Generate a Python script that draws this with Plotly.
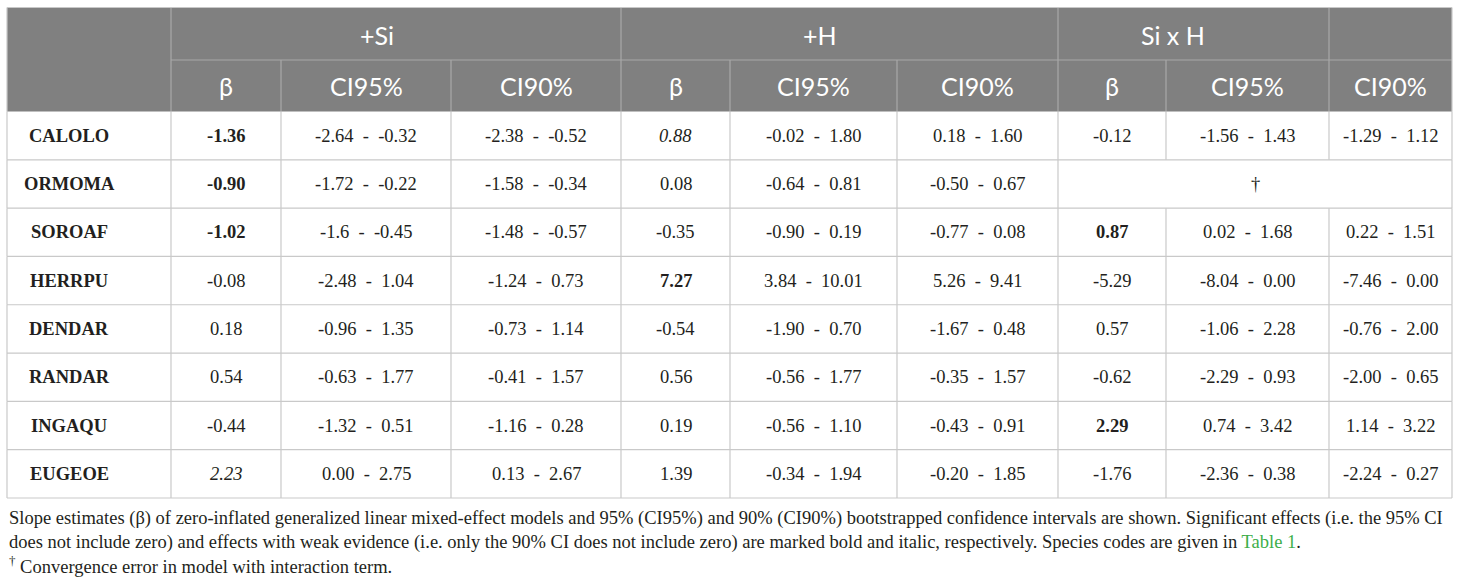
import plotly.graph_objects as go

# ---------------- data ----------------
species = ["CALOLO", "ORMOMA", "SOROAF", "HERRPU", "DENDAR", "RANDAR", "INGAQU", "EUGEOE"]

groups = ["+Si", "+H", "Si x H"]
sub_labels = ["β", "CI95%", "CI90%"]

si_beta = ["-1.36", "-0.90", "-1.02", "-0.08", "0.18", "0.54", "-0.44", "2.23"]
si_ci95_lo = ["-2.64", "-1.72", "-1.6", "-2.48", "-0.96", "-0.63", "-1.32", "0.00"]
si_ci95_hi = ["-0.32", "-0.22", "-0.45", "1.04", "1.35", "1.77", "0.51", "2.75"]
si_ci90_lo = ["-2.38", "-1.58", "-1.48", "-1.24", "-0.73", "-0.41", "-1.16", "0.13"]
si_ci90_hi = ["-0.52", "-0.34", "-0.57", "0.73", "1.14", "1.57", "0.28", "2.67"]
si_style = ["b", "b", "b", "", "", "", "", "i"]

h_beta = ["0.88", "0.08", "-0.35", "7.27", "-0.54", "0.56", "0.19", "1.39"]
h_ci95_lo = ["-0.02", "-0.64", "-0.90", "3.84", "-1.90", "-0.56", "-0.56", "-0.34"]
h_ci95_hi = ["1.80", "0.81", "0.19", "10.01", "0.70", "1.77", "1.10", "1.94"]
h_ci90_lo = ["0.18", "-0.50", "-0.77", "5.26", "-1.67", "-0.35", "-0.43", "-0.20"]
h_ci90_hi = ["1.60", "0.67", "0.08", "9.41", "0.48", "1.57", "0.91", "1.85"]
h_style = ["i", "", "", "b", "", "", "", ""]

sxh_beta = ["-0.12", None, "0.87", "-5.29", "0.57", "-0.62", "2.29", "-1.76"]
sxh_ci95_lo = ["-1.56", None, "0.02", "-8.04", "-1.06", "-2.29", "0.74", "-2.36"]
sxh_ci95_hi = ["1.43", None, "1.68", "0.00", "2.28", "0.93", "3.42", "0.38"]
sxh_ci90_lo = ["-1.29", None, "0.22", "-7.46", "-0.76", "-2.00", "1.14", "-2.24"]
sxh_ci90_hi = ["1.12", None, "1.51", "0.00", "2.00", "0.65", "3.22", "0.27"]
sxh_style = ["", None, "b", "", "", "", "b", ""]
sxh_note = "†"

caption_lines = [
    "Slope estimates (β) of zero-inflated generalized linear mixed-effect models and 95% (CI95%) and 90% (CI90%) "
    "bootstrapped confidence intervals are shown. Significant effects (i.e. the 95% CI",
    "does not include zero) and effects with weak evidence (i.e. only the 90% CI does not include zero) are marked "
    "bold and italic, respectively. Species codes are given in <span style='color:#3dae4a'>Table 1</span>.",
    "<sup>†</sup> Convergence error in model with interaction term.",
]

# ---------------- layout geometry ----------------
W, H = 1460, 585
col_edges = [7, 171, 281, 451, 621, 730, 897, 1058, 1166, 1329, 1452]
hdr_top, hdr_mid, hdr_bot = 7.5, 60, 111.5
tbl_bot = 498
n = len(species)
row_h = (tbl_bot - hdr_bot) / n
row_edges = [hdr_bot + i * row_h for i in range(n + 1)]
group_x = [377, 820, 1173]
species_x = 69

HDR_FILL = "#808080"
HDR_LINE = "#a8a8a8"
BODY_LINE = "#c9c9c9"
TXT = "#231f20"
SERIF = "Liberation Serif"
SANS = "Lato"
NB = "\u00a0"

shapes = []
annotations = []


def line(x0, y0, x1, y1, color, w=1.2):
    shapes.append(dict(type="line", xref="x", yref="y", x0=x0, y0=y0, x1=x1, y1=y1,
                       line=dict(color=color, width=w), layer="above"))


def text(x, y, s, size, color=TXT, family=SERIF, xanchor="center"):
    annotations.append(dict(x=x, y=y, xref="x", yref="y", text=s, showarrow=False,
                            xanchor=xanchor, yanchor="middle",
                            font=dict(family=family, size=size, color=color)))


def styled(s, st):
    if st == "b":
        return f"<b>{s}</b>"
    if st == "i":
        return f"<i>{s}</i>"
    return s


# header background
shapes.append(dict(type="rect", xref="x", yref="y", x0=col_edges[0], x1=col_edges[-1],
                   y0=hdr_top, y1=hdr_bot, fillcolor=HDR_FILL, line=dict(width=0), layer="below"))

# header lines
line(col_edges[1], hdr_mid, col_edges[-1], hdr_mid, HDR_LINE)
for xe in [col_edges[1], col_edges[4], col_edges[7], col_edges[9]]:
    line(xe, hdr_top, xe, hdr_bot, HDR_LINE)
for xe in [col_edges[2], col_edges[3], col_edges[5], col_edges[6], col_edges[8]]:
    line(xe, hdr_mid, xe, hdr_bot, HDR_LINE)
line(col_edges[0], hdr_top, col_edges[-1], hdr_top, "#c8c8c8")

# body horizontal lines
for ye in row_edges[1:]:
    line(col_edges[0], ye, col_edges[-1], ye, BODY_LINE)
# body vertical lines
for j, xe in enumerate(col_edges):
    for i in range(n):
        if sxh_beta[i] is None and j in (8, 9):
            continue
        line(xe, row_edges[i], xe, row_edges[i + 1], BODY_LINE)
line(col_edges[0], hdr_top, col_edges[0], hdr_bot, "#c8c8c8")
line(col_edges[-1], hdr_top, col_edges[-1], hdr_bot, "#c8c8c8")

# header text
for g, gx in zip(groups, group_x):
    text(gx, (hdr_top + hdr_mid) / 2 + 1, g, 25, "white", SANS)
for k in range(9):
    cx = (col_edges[k + 1] + col_edges[k + 2]) / 2
    text(cx, (hdr_mid + hdr_bot) / 2 + 0.5, sub_labels[k % 3], 25, "white", SANS)

# body text
sets = [
    (si_beta, si_ci95_lo, si_ci95_hi, si_ci90_lo, si_ci90_hi, si_style),
    (h_beta, h_ci95_lo, h_ci95_hi, h_ci90_lo, h_ci90_hi, h_style),
    (sxh_beta, sxh_ci95_lo, sxh_ci95_hi, sxh_ci90_lo, sxh_ci90_hi, sxh_style),
]
sep = NB * 2 + "-" + NB * 2
for i in range(n):
    cy = (row_edges[i] + row_edges[i + 1]) / 2
    text(species_x, cy, f"<b>{species[i]}</b>", 18.5)
    for gi, (b, l95, h95, l90, h90, st) in enumerate(sets):
        c0 = 1 + gi * 3
        if b[i] is None:
            text((col_edges[c0] + col_edges[c0 + 3]) / 2, cy, sxh_note, 18.5)
            continue
        text((col_edges[c0] + col_edges[c0 + 1]) / 2, cy, styled(b[i], st[i]), 18.5)
        text((col_edges[c0 + 1] + col_edges[c0 + 2]) / 2, cy, f"{l95[i]}{sep}{h95[i]}", 18.5)
        text((col_edges[c0 + 2] + col_edges[c0 + 3]) / 2, cy, f"{l90[i]}{sep}{h90[i]}", 18.5)

# caption
cap_y = [518, 542, 565]
for s, y in zip(caption_lines, cap_y):
    text(col_edges[0], y, s, 18.5, TXT, SERIF, xanchor="left")

fig = go.Figure()
fig.update_layout(
    width=W, height=H, margin=dict(l=0, r=0, t=0, b=0),
    paper_bgcolor="white", plot_bgcolor="white",
    xaxis=dict(range=[0, W], visible=False, fixedrange=True),
    yaxis=dict(range=[H, 0], visible=False, fixedrange=True),
    shapes=shapes, annotations=annotations, showlegend=False,
)
fig.write_html("out.html", config={"displayModeBar": False, "staticPlot": True},
               post_script="document.body.style.margin='0px';document.body.style.overflow='hidden';")
